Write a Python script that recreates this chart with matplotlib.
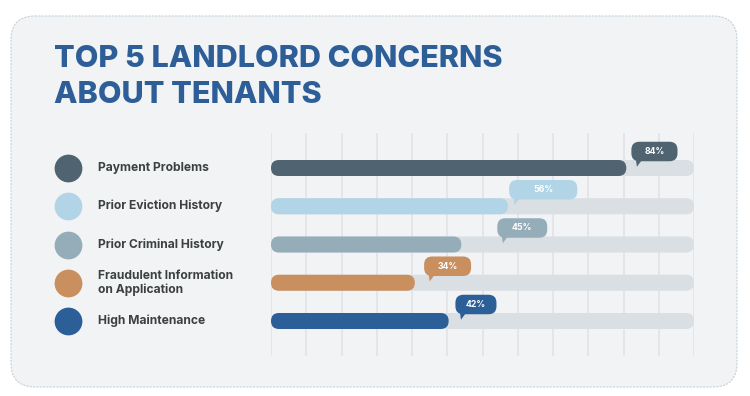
import matplotlib.pyplot as plt
import numpy as np
from matplotlib.patches import FancyBboxPatch, Polygon

# data
categories = ["Payment Problems", "Prior Eviction History", "Prior Criminal History",
              "Fraudulent Information\non Application", "High Maintenance"]
percent = [84, 56, 45, 34, 42]
pct_labels = ["84%", "56%", "45%", "34%", "42%"]

# style
colors = ["#4f6370", "#b1d4e6", "#95adb9", "#c98f5e", "#2c5e97"]
track_color = "#dadfe3"
bubble_gap = [1.2, 0.3, 8.5, 2.2, 1.6]    # space between bar end and bubble (value units)
bubble_w = [10.9, 16.1, 11.8, 11.1, 9.7]  # bubble widths (value units)
FONT = 'Inter'

W, H = 750, 396
fig = plt.figure(figsize=(W / 100, H / 100), dpi=100)

# background panel + title in pixel coords
bg = fig.add_axes([0, 0, 1, 1])
bg.set_xlim(0, W)
bg.set_ylim(H, 0)
bg.axis('off')
panel = FancyBboxPatch((11, 16), 726, 371, boxstyle="round,pad=0,rounding_size=24",
                       facecolor="#f1f3f5", edgecolor="#c5d3dc", linewidth=0.8,
                       linestyle=(0, (2, 1)))
bg.add_patch(panel)
bg.text(54, 67, "TOP 5 LANDLORD CONCERNS", fontsize=22, fontweight='heavy',
        family=FONT, color="#2d5e97", va='baseline')
bg.text(54, 103, "ABOUT TENANTS", fontsize=22, fontweight='heavy',
        family=FONT, color="#2d5e97", va='baseline')

# chart axes
ax = fig.add_axes([271 / W, 1 - 356 / H, 423 / W, 223 / H])
ax.set_xlim(0, 100)
ax.set_ylim(4.915, -0.915)
ax.patch.set_alpha(0)
for s in ax.spines.values():
    s.set_visible(False)
ax.set_xticks(np.linspace(0, 100, 13))
ax.set_yticks([])
ax.tick_params(length=0, labelbottom=False)
ax.grid(axis='x', color="#dfe2e5", linewidth=1.1)
ax.set_axisbelow(True)

px_x = 423 / 100.0   # pixels per value unit
px_y = 223 / 5.83    # pixels per row
asp = px_x / px_y
bar_h = 16 / px_y
rad = 8 / px_x

for i, (v, c) in enumerate(zip(percent, colors)):
    track = FancyBboxPatch((0, i - bar_h / 2), 100, bar_h,
                           boxstyle=f"round,pad=0,rounding_size={rad}",
                           mutation_aspect=asp, facecolor=track_color, edgecolor='none', zorder=2)
    ax.add_patch(track)
    bar = FancyBboxPatch((0, i - bar_h / 2), v, bar_h,
                         boxstyle=f"round,pad=0,rounding_size={rad}",
                         mutation_aspect=asp, facecolor=c, edgecolor='none', zorder=3)
    ax.add_patch(bar)

    # speech bubble
    bh = 19.5 / px_y
    bcy = i - 16.5 / px_y
    left = v + bubble_gap[i]
    bub = FancyBboxPatch((left, bcy - bh / 2), bubble_w[i], bh,
                         boxstyle=f"round,pad=0,rounding_size={rad}",
                         mutation_aspect=asp, facecolor=c, edgecolor='none', zorder=4)
    ax.add_patch(bub)
    bottom = bcy + bh / 2
    tail = Polygon([(left + 4.5 / px_x, bottom - 0.05), (left + 11 / px_x, bottom - 0.05),
                    (left + 5.5 / px_x, bottom + 5.5 / px_y)],
                   closed=True, facecolor=c, edgecolor='none', zorder=4)
    ax.add_patch(tail)
    ax.text(left + bubble_w[i] / 2, bcy, pct_labels[i], color='white', fontsize=6.3,
            fontweight='bold', family=FONT, ha='center', va='center', zorder=5)

    # legend dot + label
    ax.scatter([-48], [i], s=400, color=c, clip_on=False, zorder=3, linewidths=0)
    ax.text(-41, i, categories[i], fontsize=8.7, fontweight='bold', family=FONT,
            color="#3c413e", ha='left', va='center', linespacing=1.15, clip_on=False)

fig.savefig("out.png", dpi=100)
